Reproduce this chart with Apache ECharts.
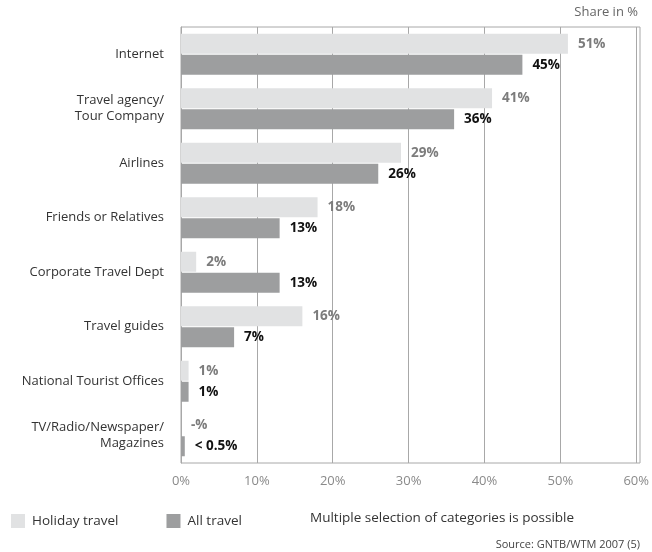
<!DOCTYPE html>
<html>
<head>
<meta charset="utf-8">
<script src="https://cdn.jsdelivr.net/npm/echarts@6/dist/echarts.min.js"></script>
<style>
  html, body { margin: 0; padding: 0; background: #fff; }
  #chart { width: 652px; height: 552px; }
</style>
</head>
<body>
<div id="chart"></div>
<script>
// Booking channels, share of respondents in %
const categories = [
  'Internet',
  'Travel agency/\nTour Company',
  'Airlines',
  'Friends or Relatives',
  'Corporate Travel Dept',
  'Travel guides',
  'National Tourist Offices',
  'TV/Radio/Newspaper/\nMagazines'
];
const holidayTravel = [51, 41, 29, 18, 2, 16, 1, 0];
const allTravel = [45, 36, 26, 13, 13, 7, 1, 0.5];
// Value labels as printed next to the bars
const holidayLabels = ['51%', '41%', '29%', '18%', '2%', '16%', '1%', '-%'];
const allLabels = ['45%', '36%', '26%', '13%', '13%', '7%', '1%', '< 0.5%'];
const xTicks = [0, 10, 20, 30, 40, 50, 60];

const FONT = '"Open Sans", "DejaVu Sans", sans-serif';
const chart = echarts.init(document.getElementById('chart'));

chart.setOption({
  animation: false,
  textStyle: { fontFamily: FONT },
  grid: { left: 181, right: 12, top: 27, bottom: 89 },
  legend: {
    left: 6,
    top: 509,
    itemWidth: 14,
    itemHeight: 14,
    itemGap: 48,
    icon: 'rect',
    textStyle: { fontFamily: FONT, fontSize: 13.5, color: '#333', padding: [2, 0, 0, 2] },
    data: ['Holiday travel', 'All travel']
  },
  xAxis: {
    type: 'value',
    min: xTicks[0],
    max: xTicks[xTicks.length - 1],
    interval: 10,
    axisLine: { show: false },
    axisTick: { show: false },
    axisLabel: {
      color: '#8a8a8a',
      fontSize: 13,
      margin: 12,
      formatter: v => v + '%'
    },
    splitLine: { show: true, lineStyle: { color: '#a8a8a8', width: 1 } }
  },
  yAxis: {
    type: 'category',
    data: categories,
    inverse: true,
    axisLine: { show: true, lineStyle: { color: '#a8a8a8', width: 1 } },
    axisTick: { show: false },
    axisLabel: {
      color: '#333',
      fontSize: 13,
      lineHeight: 16,
      margin: 17,
      align: 'right'
    }
  },
  series: [
    {
      name: 'Holiday travel',
      type: 'bar',
      data: holidayTravel,
      barWidth: 20,
      barGap: '5%',
      itemStyle: { color: '#e1e2e3' },
      label: {
        show: true,
        position: 'right',
        distance: 10,
        color: '#7c7c7c',
        fontWeight: 'bold',
        fontSize: 13.5,
        formatter: p => holidayLabels[p.dataIndex]
      }
    },
    {
      name: 'All travel',
      type: 'bar',
      data: allTravel,
      barWidth: 20,
      itemStyle: { color: '#9d9e9f' },
      label: {
        show: true,
        position: 'right',
        distance: 10,
        color: '#111',
        fontWeight: 'bold',
        fontSize: 13.5,
        formatter: p => allLabels[p.dataIndex]
      }
    }
  ],
  graphic: [
    {
      type: 'rect',
      silent: true,
      shape: { x: 181, y: 27, width: 459, height: 436 },
      style: { fill: 'none', stroke: '#a8a8a8', lineWidth: 1 }
    },
    {
      type: 'text',
      right: 14,
      top: 6,
      style: { text: 'Share in %', fontFamily: FONT, fontSize: 13, fill: '#666' }
    },
    {
      type: 'text',
      left: 310,
      top: 511,
      style: { text: 'Multiple selection of categories is possible', fontFamily: FONT, fontSize: 13.5, fill: '#333' }
    },
    {
      type: 'text',
      right: 12,
      top: 539,
      style: { text: 'Source: GNTB/WTM 2007 (5)', fontFamily: FONT, fontSize: 11, fill: '#444' }
    }
  ]
});
</script>
</body>
</html>
